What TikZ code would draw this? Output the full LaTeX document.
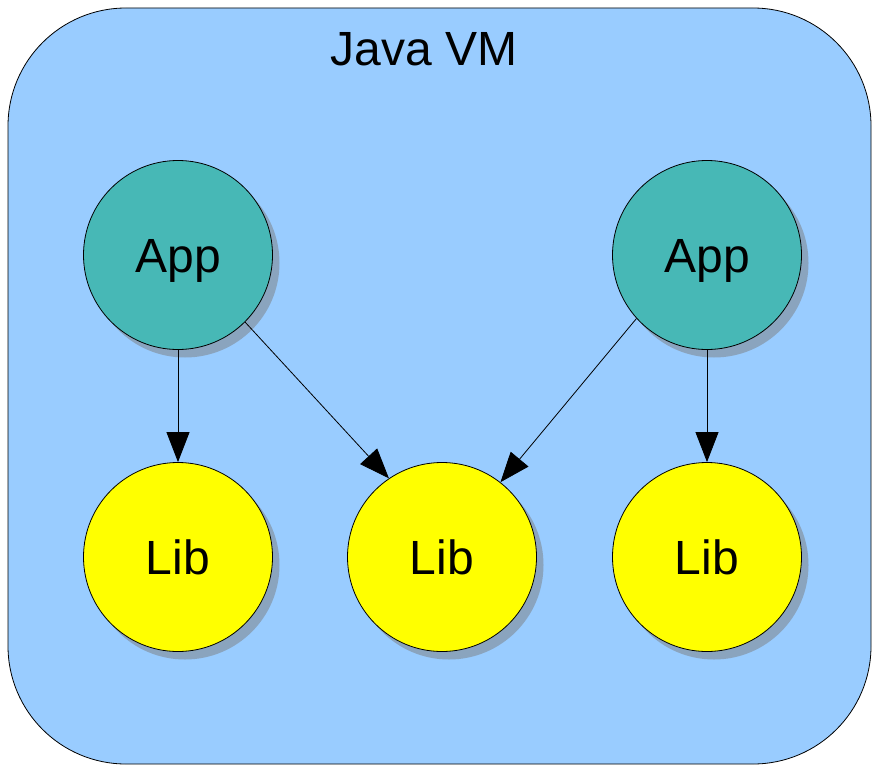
\documentclass[tikz,border=0pt]{standalone}
\usepackage{fontspec}
\setmainfont{Liberation Sans}
\usetikzlibrary{arrows.meta,shadows}
\definecolor{vmblue}{RGB}{153,204,255}
\definecolor{appteal}{RGB}{71,184,182}
\definecolor{libyellow}{RGB}{255,255,0}
\definecolor{shadowc}{RGB}{138,164,190}
\tikzset{
  ball/.style={circle, draw=black, line width=0.8pt, minimum size=189pt, inner sep=0pt,
    text height=35pt, text depth=0pt,
    font=\fontsize{48}{58}\selectfont,
    drop shadow={shadow xshift=7pt, shadow yshift=-8pt, opacity=1, fill=shadowc}},
  appball/.style={ball, fill=appteal},
  libball/.style={ball, fill=libyellow},
  link/.style={draw=black, line width=0.8pt, -{Triangle[length=30pt,width=23pt]}}
}
\begin{document}
\begin{tikzpicture}[x=1pt,y=-1pt]
\useasboundingbox (0,0) rectangle (872,765);
\draw[fill=vmblue, line width=0.8pt, rounded corners=118pt] (8,8) rectangle (871,764);
\node[anchor=base, font=\fontsize{48}{58}\selectfont] (title) at (424,66) {Java VM};
\node[appball] (app1) at (178,255) {App};
\node[appball] (app2) at (707,255) {App};
\node[libball] (lib1) at (178,557) {Lib};
\node[libball] (lib2) at (442,557) {Lib};
\node[libball] (lib3) at (707,557) {Lib};
\draw[link] (app1) -- (lib1);
\draw[link] (app1.-45) -- (lib2.124);
\draw[link] (app2.222) -- (lib2.52);
\draw[link] (app2) -- (lib3);
\end{tikzpicture}
\end{document}
